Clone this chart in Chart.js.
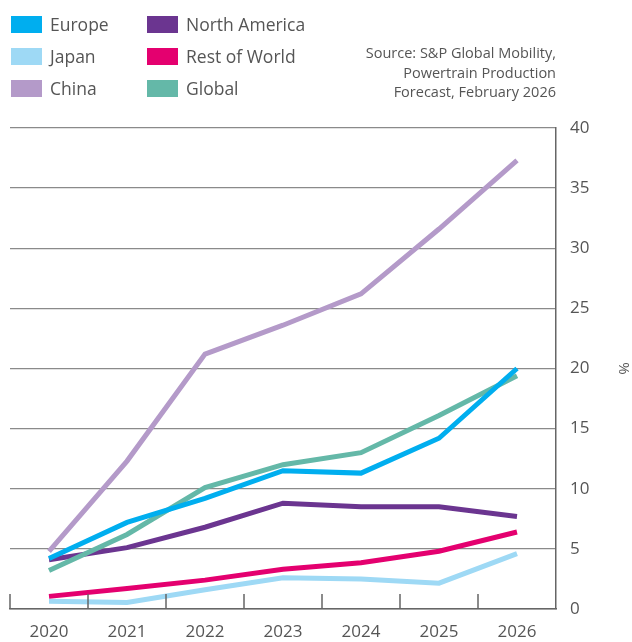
<!DOCTYPE html>
<html>
<head>
<meta charset="utf-8">
<script src="https://cdn.jsdelivr.net/npm/chart.js@4/dist/chart.umd.min.js"></script>
<style>
  html, body { margin: 0; padding: 0; background: #fff; }
  #wrap { position: relative; width: 632px; height: 642px; font-family: "Open Sans", sans-serif; color: #555; }
  #chart { position: absolute; left: 0; top: 0; }
  .legend { position: absolute; top: 15px; display: flex; flex-direction: column; gap: 14px; font-size: 17.5px; }
  .legend div { display: flex; align-items: center; height: 18px; }
  .legend span.box { display: inline-block; width: 31px; height: 17px; margin-right: 8px; }
  #source { position: absolute; right: 76px; top: 43px; text-align: right; font-size: 14.5px; line-height: 19.5px; }
</style>
</head>
<body>
<div id="wrap">
  <canvas id="chart" width="632" height="642"></canvas>
  <div class="legend" id="legend-a" style="left:11px"></div>
  <div class="legend" id="legend-b" style="left:147px"></div>
  <div id="source">Source: S&amp;P Global Mobility,<br>Powertrain Production<br>Forecast, February 2026</div>
</div>
<script>
const years = ["2020", "2021", "2022", "2023", "2024", "2025", "2026"];

const europe = [4.2, 7.2, 9.2, 11.5, 11.3, 14.2, 20.0];
const japan = [0.64, 0.55, 1.6, 2.6, 2.5, 2.15, 4.6];
const china = [4.8, 12.3, 21.2, 23.6, 26.2, 31.6, 37.3];
const northAmerica = [4.1, 5.1, 6.8, 8.8, 8.5, 8.5, 7.7];
const restOfWorld = [1.05, 1.7, 2.4, 3.3, 3.85, 4.8, 6.4];
const global = [3.2, 6.2, 10.1, 12.0, 13.0, 16.1, 19.4];

const yTicks = [0, 5, 10, 15, 20, 25, 30, 35, 40];

const series = [
  { label: "Europe", data: europe, color: "#00aeef", order: 1, col: "a" },
  { label: "Japan", data: japan, color: "#9ed9f5", order: 5, col: "a" },
  { label: "China", data: china, color: "#b49ac9", order: 0, col: "a" },
  { label: "North America", data: northAmerica, color: "#6b3590", order: 3, col: "b" },
  { label: "Rest of World", data: restOfWorld, color: "#e4006f", order: 4, col: "b" },
  { label: "Global", data: global, color: "#64b8a8", order: 2, col: "b" },
];

// legend in two columns, like the printed chart
for (const s of series) {
  const item = document.createElement("div");
  item.innerHTML = '<span class="box" style="background:' + s.color + '"></span>' + s.label;
  document.querySelector("#legend-" + s.col).appendChild(item);
}

// short upward tick marks between the year columns
const categoryTicks = {
  id: "categoryTicks",
  afterDraw(chart) {
    const x = chart.scales.x;
    const ctx = chart.ctx;
    const bottom = chart.chartArea.bottom;
    ctx.save();
    ctx.strokeStyle = "#666";
    ctx.lineWidth = 1.5;
    ctx.beginPath();
    ctx.moveTo(chart.chartArea.left, bottom);
    ctx.lineTo(chart.chartArea.left, bottom - 15);
    for (let i = 1; i < years.length; i++) {
      const px = (x.getPixelForValue(i - 1) + x.getPixelForValue(i)) / 2;
      ctx.moveTo(px, bottom);
      ctx.lineTo(px, bottom - 15);
    }
    ctx.stroke();
    ctx.restore();
  },
};

new Chart(document.querySelector("#chart"), {
  type: "line",
  data: {
    labels: years,
    datasets: series.map((s) => ({
      label: s.label,
      data: s.data,
      borderColor: s.color,
      backgroundColor: s.color,
      borderWidth: 5,
      pointRadius: 0,
      tension: 0,
      order: s.order,
    })),
  },
  options: {
    responsive: false,
    animation: false,
    layout: { padding: { top: 128, left: 10, right: 0, bottom: 0 } },
    plugins: { legend: { display: false }, tooltip: { enabled: false } },
    scales: {
      x: {
        offset: true,
        grid: { display: false },
        border: { color: "#666", width: 1.5 },
        ticks: { color: "#555", font: { family: "Open Sans", size: 17 }, padding: 5 },
        afterFit(scale) { scale.height = 33; },
      },
      y: {
        position: "right",
        min: 0,
        max: 40,
        afterBuildTicks(scale) { scale.ticks = yTicks.map((v) => ({ value: v })); },
        grid: { color: "#8a8a8a", lineWidth: 1.3, drawTicks: false },
        border: { color: "#666", width: 1.5 },
        ticks: { color: "#555", font: { family: "Open Sans", size: 17 }, padding: 14 },
        title: { display: true, text: "%", color: "#555", font: { family: "Open Sans", size: 15 }, padding: { top: 0, bottom: 0 } },
        afterFit(scale) { scale.width = 76; },
      },
    },
  },
  plugins: [categoryTicks],
});
</script>
</body>
</html>
